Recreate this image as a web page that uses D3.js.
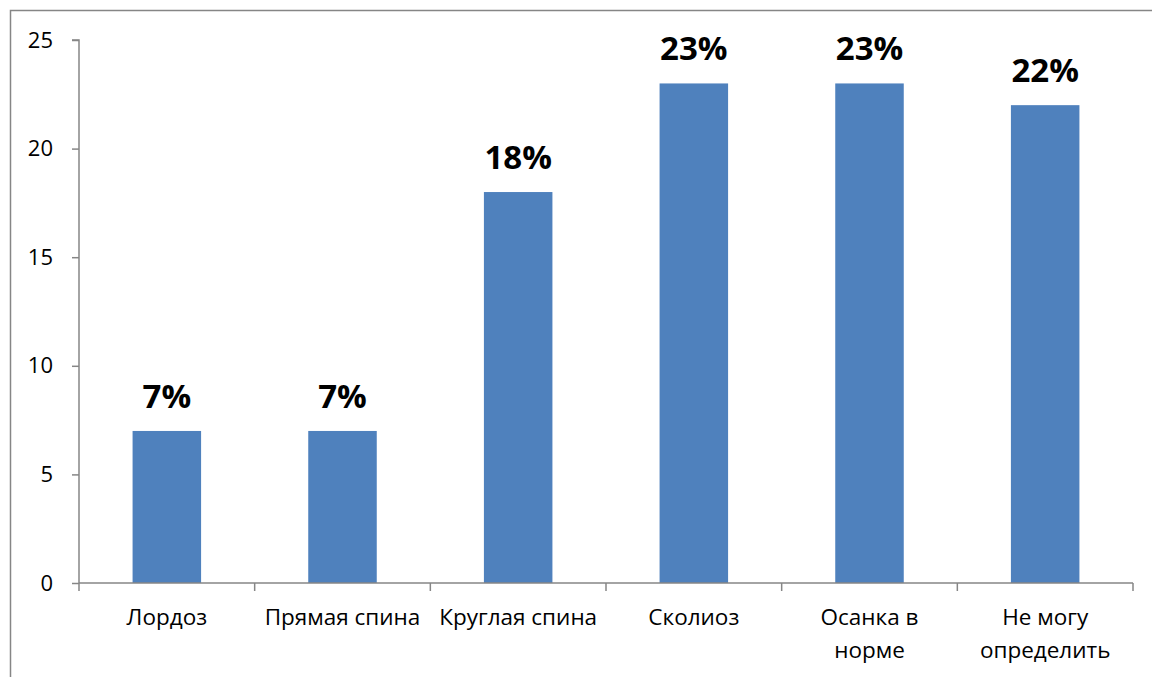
<!DOCTYPE html>
<html><head><meta charset="utf-8">
<script src="https://cdn.jsdelivr.net/npm/d3@7"></script>
<style>
html,body{margin:0;padding:0;background:#fff;}
svg{display:block;}
text{font-family:"Open Sans","Noto Sans",sans-serif;}
</style></head>
<body>
<svg id="chart" width="1152" height="677"></svg>
<script>
// Posture survey results, percent of respondents
const categories = [["Лордоз"], ["Прямая спина"], ["Круглая спина"], ["Сколиоз"], ["Осанка в", "норме"], ["Не могу", "определить"]];
const values = [7, 7, 18, 23, 23, 22];
const valueLabels = ["7%", "7%", "18%", "23%", "23%", "22%"];
const yTicks = [0, 5, 10, 15, 20, 25];

const svg = d3.select("#chart");
const plotLeft = 79, plotRight = 1133, plotTop = 40, plotBottom = 583;
const fontFamily = "'Open Sans','Noto Sans',sans-serif";

// outer frame
svg.append("rect").attr("x", 10.5).attr("y", 10.5).attr("width", 1160).attr("height", 700)
  .attr("fill", "none").attr("stroke", "#868686").attr("stroke-width", 1.5);

const x = d3.scaleBand().domain(d3.range(categories.length)).range([plotLeft, plotRight]).paddingInner(0.61).paddingOuter(0.305);
const y = d3.scaleLinear().domain([0, 25]).range([plotBottom, plotTop]);
const band = (plotRight - plotLeft) / categories.length;

// bars
svg.append("g").selectAll("rect").data(values).join("rect")
  .attr("x", (d, i) => x(i)).attr("width", x.bandwidth())
  .attr("y", d => y(d)).attr("height", d => y(0) - y(d))
  .attr("fill", "#4F81BD");

// value labels
svg.append("g").selectAll("text").data(values).join("text")
  .attr("x", (d, i) => x(i) + x.bandwidth() / 2)
  .attr("y", d => y(d) - 23)
  .attr("text-anchor", "middle")
  .attr("font-weight", "bold").attr("font-size", 33).attr("fill", "#000")
  .text((d, i) => valueLabels[i]);

// y axis
const yAxis = d3.axisLeft(y).tickValues(yTicks).tickSize(7).tickPadding(19).tickFormat(d3.format("d"));
const gy = svg.append("g").attr("transform", `translate(${plotLeft},0)`).call(yAxis);
gy.select(".domain").attr("stroke", "#868686").attr("stroke-width", 1.5).attr("d", `M-7,${plotTop}H0V${plotBottom}`);
gy.selectAll(".tick line").attr("stroke", "#868686").attr("stroke-width", 1.5);
gy.selectAll(".tick text").attr("font-size", 22).attr("fill", "#000").style("font-family", fontFamily);

// x axis line and category boundary ticks
const gx = svg.append("g");
gx.append("line").attr("x1", plotLeft).attr("x2", plotRight).attr("y1", plotBottom).attr("y2", plotBottom)
  .attr("stroke", "#868686").attr("stroke-width", 1.5);
gx.selectAll("line.tk").data(d3.range(categories.length + 1)).join("line").attr("class", "tk")
  .attr("x1", i => plotLeft + i * band).attr("x2", i => plotLeft + i * band)
  .attr("y1", plotBottom).attr("y2", plotBottom + 8)
  .attr("stroke", "#868686").attr("stroke-width", 1.5);

// category labels
const lbl = gx.selectAll("text").data(categories).join("text")
  .attr("text-anchor", "middle").attr("font-size", 22.5).attr("fill", "#000")
  .attr("x", (d, i) => x(i) + x.bandwidth() / 2)
  .attr("y", 625);
lbl.selectAll("tspan").data(d => d).join("tspan")
  .attr("x", function() { return this.parentNode.getAttribute("x"); })
  .attr("dy", (d, j) => j === 0 ? 0 : 33)
  .text(d => d);
</script>
</body></html>
